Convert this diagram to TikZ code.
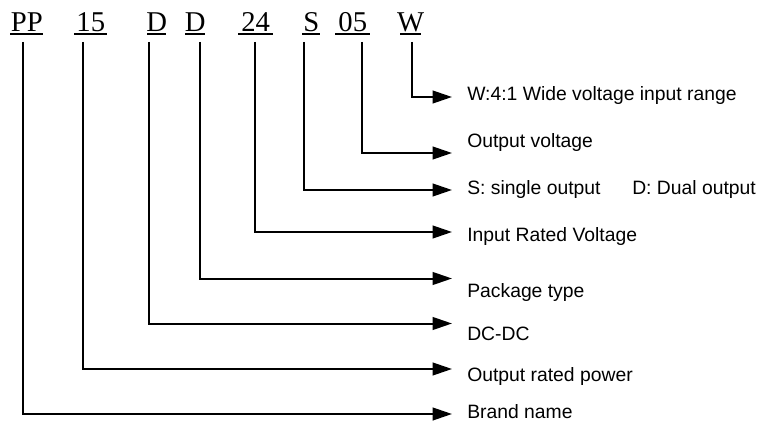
\documentclass[tikz,border=0pt]{standalone}
\usepackage{fontspec}
\setmainfont{Liberation Sans}
\newfontfamily\codefont{Liberation Serif}
\usetikzlibrary{arrows.meta}
% underlined code text: #1 = width of the underline, #2 = text
\newcommand\codeul[2]{\rlap{\rule[-2.3pt]{#1}{1.1pt}}\makebox[#1][c]{#2}}
\tikzset{
  code/.style={anchor=base west, inner sep=0pt, font=\codefont\fontsize{21.5pt}{24pt}\selectfont},
  lbl/.style={anchor=base west, inner sep=0pt, font=\fontsize{14.5pt}{17pt}\selectfont},
  conn/.style={line width=1.5pt, -{Triangle[length=14.5pt,width=9.5pt]}},
}
\begin{document}
\begin{tikzpicture}[x=0.75pt,y=-0.75pt]
\useasboundingbox (0,0) rectangle (760,424);
% code letters
\node[code] (cPP) at (10,31.5) {\codeul{24.75pt}{PP}};
\node[code] (c15) at (74,31.5) {\codeul{24.75pt}{15}};
\node[code] (cD1) at (147,31.5) {\codeul{14.25pt}{D}};
\node[code] (cD2) at (185,31.5) {\codeul{15pt}{D}};
\node[code] (c24) at (238,31.5) {\codeul{26pt}{24}};
\node[code] (cS) at (302,31.5) {\codeul{13.5pt}{S}};
\node[code] (c05) at (335,31.5) {\codeul{26.25pt}{05}};
\node[code] (cW) at (400,31.5) {\codeul{15.75pt}{W}};
% labels
\node[lbl] (lW) at (467,101) {W:4:1 Wide voltage input range};
\node[lbl] (l05) at (467,148) {Output voltage};
\node[lbl] (lS) at (467,195) {S: single output};
\node[lbl] (lSD) at (632,195) {D: Dual output};
\node[lbl] (l24) at (467,241) {Input Rated Voltage};
\node[lbl] (lD2) at (467,297) {Package type};
\node[lbl] (lD1) at (467,340.5) {DC-DC};
\node[lbl] (l15) at (467,381) {Output rated power};
\node[lbl] (lPP) at (467,418.5) {Brand name};
% stem tops
\coordinate (sPP) at (23,42);
\coordinate (s15) at (83,42);
\coordinate (sD1) at (149,42);
\coordinate (sD2) at (200,42);
\coordinate (s24) at (255,42);
\coordinate (sS) at (304,42);
\coordinate (s05) at (362,42);
\coordinate (sW) at (412,42);
% arrow ends
\coordinate (eW) at (452,97);
\coordinate (e05) at (452,153);
\coordinate (eS) at (452,190);
\coordinate (e24) at (452,232);
\coordinate (eD2) at (452,278.5);
\coordinate (eD1) at (452,323.5);
\coordinate (e15) at (452,369);
\coordinate (ePP) at (452,414);
% connectors
\draw[conn] (sW) |- (eW);
\draw[conn] (s05) |- (e05);
\draw[conn] (sS) |- (eS);
\draw[conn] (s24) |- (e24);
\draw[conn] (sD2) |- (eD2);
\draw[conn] (sD1) |- (eD1);
\draw[conn] (s15) |- (e15);
\draw[conn] (sPP) |- (ePP);
\end{tikzpicture}
\end{document}
